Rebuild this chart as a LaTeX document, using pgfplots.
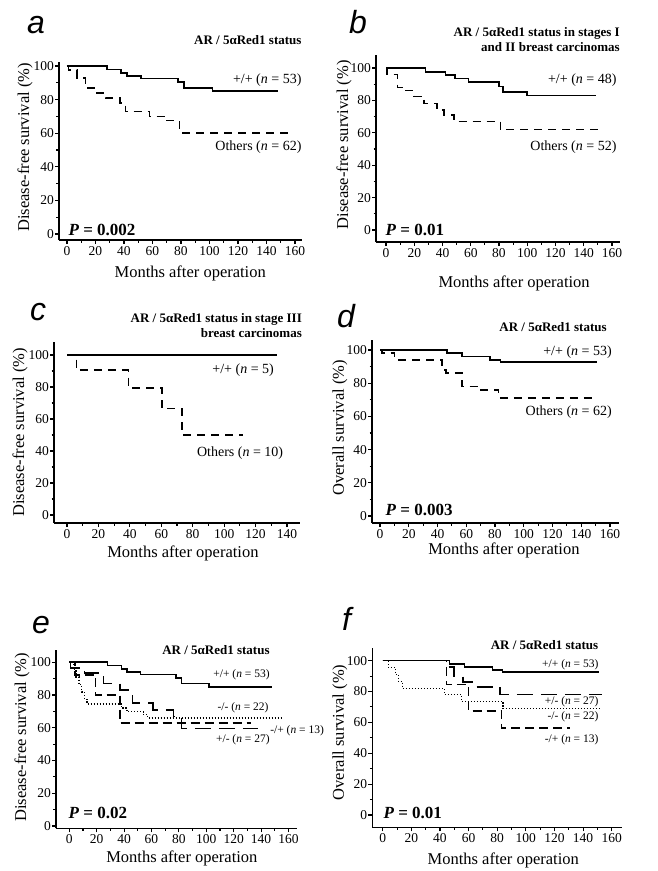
\documentclass[border=0pt]{standalone}
\usepackage{fontspec}
\setmainfont{Liberation Serif}
\newfontfamily\letterfont{Liberation Sans}
\usepackage{pgfplots}
\pgfplotsset{compat=1.18}
\newcommand{\ttl}{\fontsize{13}{14.5}\selectfont\bfseries}
\newcommand{\lbl}{\fontsize{14}{15}\selectfont}
\newcommand{\slbl}{\fontsize{11.5}{12}\selectfont}
\newcommand{\pv}{\fontsize{17}{18}\selectfont\bfseries}
\newcommand{\ltr}{\fontsize{32}{34}\selectfont\letterfont\itshape}
\pgfplotsset{
  km/.style={
    scale only axis, anchor=south west, clip=false,
    axis x line*=bottom, axis y line*=left,
    xtick={0,20,...,160}, ytick={0,20,...,100},
    minor x tick num=1, minor y tick num=1,
    tick align=outside, major tick length=4pt, minor tick length=2.5pt,
    every tick/.style={black, line width=1.1pt},
    axis line style={line width=1.6pt},
    tick label style={font=\fontsize{13.5}{14}\selectfont},
    /pgf/number format/assume math mode=true,
    yticklabel style={inner xsep=1pt},
    xticklabel style={inner ysep=2pt},
    label style={font=\fontsize{16.5}{18}\selectfont},
    xlabel={Months after operation},
  },
  sld/.style={black, solid, line width=1.6pt, const plot, mark=none},
  dsh/.style={black, line width=1.6pt, const plot, mark=none, dash pattern=on 8pt off 6pt},
  lng/.style={black, line width=1.6pt, const plot, mark=none, dash pattern=on 16pt off 8pt},
  med/.style={black, line width=1.6pt, const plot, mark=none, dash pattern=on 9pt off 5pt},
  dot/.style={black, line width=1.4pt, const plot, mark=none, dash pattern=on 1.2pt off 1.8pt},
}
\begin{document}
\begin{tikzpicture}
\useasboundingbox (0,0) rectangle (657pt,-871pt);
% panel letters
\node[anchor=base west, inner sep=0pt] at (27pt,-33pt) {\ltr a};
\node[anchor=base west, inner sep=0pt] at (349pt,-33pt) {\ltr b};
\node[anchor=base west, inner sep=0pt] at (30pt,-320pt) {\ltr c};
\node[anchor=base west, inner sep=0pt] at (337pt,-327pt) {\ltr d};
\node[anchor=base west, inner sep=0pt] at (32pt,-633pt) {\ltr e};
\node[anchor=base west, inner sep=0pt] at (342pt,-630pt) {\ltr f};

% ---------------- a
\begin{axis}[km, at={(59pt,-240pt)}, width=243pt, height=178pt,
  xmin=-5.6, xmax=164.9, ymin=-3.6, ymax=102.4,
  ylabel={Disease-free survival (\%)},
  ylabel style={at={(axis description cs:-0.14,0.52)}, anchor=center},
  xlabel style={at={(axis description cs:0.54,-0.19)}, anchor=center}]
\addplot[sld] coordinates {(0,100)(28,98)(38,96)(42,94)(52,92.5)(78,90.5)(82,87)(102,85)(148,85)};
\addplot[dsh] coordinates {(0,100)(1,97.5)(7,93)(13,87)(21,84)(27,81)(37,78)(41,73)(58,70)(69,67.5)(79,60.3)(155,60.3)};
\node[anchor=east, font=\ttl] at (axis cs:167,115.5) {AR / 5αRed1 status};
\node[anchor=east] at (axis cs:167,91.7) {\lbl +/+ (\textit{n} = 53)};
\node[anchor=east] at (axis cs:167,51.8) {\lbl Others (\textit{n} = 62)};
\node[anchor=west] at (axis cs:-1.4,2.4) {\pv \textit{P} = 0.002};
\end{axis}

% ---------------- b
\begin{axis}[km, at={(376pt,-242pt)}, width=244pt, height=187pt,
  xmin=-7.1, xmax=165.7, ymin=-7.4, ymax=108,
  ylabel={Disease-free survival (\%)},
  ylabel style={at={(axis description cs:-0.131,0.52)}, anchor=center},
  xlabel style={at={(axis description cs:0.566,-0.219)}, anchor=center}]
\addplot[sld] coordinates {(0,100)(28,97.5)(42,95.5)(49,93.5)(58.5,91.5)(80,88.5)(83,85)(100,83)(149,83)};
\addplot[dsh] coordinates {(0,100)(0.7,96)(8,88)(12.5,86)(20,82.5)(27,78)(36,74)(41,71)(48,67)(81,62)(154,62)};
\node[anchor=east, align=right, inner sep=0pt, font=\ttl] at (axis cs:165.7,117.6) {AR / 5αRed1 status in stages I\\and II breast carcinomas};
\node[anchor=east] at (axis cs:165.7,92.6) {\lbl +/+ (\textit{n} = 48)};
\node[anchor=east] at (axis cs:165.7,51.4) {\lbl Others (\textit{n} = 52)};
\node[anchor=west] at (axis cs:-2.8,0) {\pv \textit{P} = 0.01};
\end{axis}

% ---------------- c
\begin{axis}[km, at={(54pt,-523pt)}, width=246pt, height=181.3pt,
  xmin=-8.3, xmax=148.3, ymin=-5, ymax=108.3, xtick={0,20,...,140},
  ylabel={Disease-free survival (\%)},
  ylabel style={at={(axis description cs:-0.138,0.50)}, anchor=center},
  xlabel style={at={(axis description cs:0.524,-0.17)}, anchor=center}]
\addplot[sld] coordinates {(0,100)(133.5,100)};
\addplot[dsh] coordinates {(0,100)(6,90.6)(39,79.5)(60.3,66.5)(73,50)(112,50)};
\node[anchor=east, align=right, inner sep=0pt, font=\ttl] at (axis cs:149.6,118.3) {AR / 5αRed1 status in stage III\\breast carcinomas};
\node[anchor=east] at (axis cs:133.9,90.6) {\lbl +/+ (\textit{n} = 5)};
\node[anchor=east] at (axis cs:139.8,38.5) {\lbl Others (\textit{n} = 10)};
\end{axis}

% ---------------- d
\begin{axis}[km, at={(372pt,-523pt)}, width=247pt, height=183pt,
  xmin=-5.6, xmax=166.3, ymin=-4.2, ymax=106,
  ylabel={Overall survival (\%)},
  ylabel style={at={(axis description cs:-0.13,0.52)}, anchor=center},
  xlabel style={at={(axis description cs:0.534,-0.15)}, anchor=center}]
\addplot[sld] coordinates {(0,100)(46.6,98)(57,96)(76.7,94)(83.7,92.6)(151,92.6)};
\addplot[dsh] coordinates {(0,100)(1.4,98)(10,96)(13,94)(43,88)(46,86)(57,78)(68.6,76)(82.5,71)(151,71)};
\node[anchor=east, font=\ttl] at (axis cs:160.2,114) {AR / 5αRed1 status};
\node[anchor=east] at (axis cs:163.7,98.6) {\lbl +/+ (\textit{n} = 53)};
\node[anchor=east] at (axis cs:163.7,62.8) {\lbl Others (\textit{n} = 62)};
\node[anchor=west] at (axis cs:1.4,3.6) {\pv \textit{P} = 0.003};
\end{axis}

% ---------------- e
\begin{axis}[km, at={(56pt,-828.3pt)}, width=240.7pt, height=178.3pt,
  xmin=-9.7, xmax=166, ymin=-1.4, ymax=107.5,
  ylabel={Disease-free survival (\%)},
  ylabel style={at={(axis description cs:-0.141,0.51)}, anchor=center},
  xlabel style={at={(axis description cs:0.523,-0.167)}, anchor=center}]
\addplot[sld] coordinates {(0,100)(28,98)(38,96)(42,94)(52,92.5)(78,90.5)(82,87)(102,85)(148,85)};
\addplot[dot] coordinates {(0,100)(3,95.5)(5,91)(7,86.4)(9,81.8)(11,77.3)(13,74.5)(38,72)(42,70)(54,68)(57,66)(155,66)};
\addplot[lng] coordinates {(0,100)(1,96.5)(11,93.5)(25,87)(37,83)(46,75)(61,71)(76,67)(82,59.5)(138,59.5)};
\addplot[med] coordinates {(0,100)(4,92.3)(19,80)(37,63)(133,63)};
\node[anchor=east, font=\ttl] at (axis cs:148.8,107.5) {AR / 5αRed1 status};
\node[anchor=east] at (axis cs:148.8,92.2) {\slbl +/+ (\textit{n} = 53)};
\node[anchor=east] at (axis cs:148,72.1) {\slbl -/- (\textit{n} = 22)};
\node[anchor=west, inner xsep=0pt] at (axis cs:146.6,58.5) {\slbl -/+ (\textit{n} = 13)};
\node[anchor=east] at (axis cs:148.8,52.5) {\slbl +/- (\textit{n} = 27)};
\node[anchor=west] at (axis cs:-3.1,7.9) {\pv \textit{P} = 0.02};
\end{axis}

% ---------------- f
\begin{axis}[km, at={(372.3pt,-827.3pt)}, width=249.4pt, height=179pt,
  xmin=-7.3, xmax=167, ymin=-8, ymax=108,
  ylabel={Overall survival (\%)},
  ylabel style={at={(axis description cs:-0.13,0.53)}, anchor=center},
  xlabel style={at={(axis description cs:0.525,-0.183)}, anchor=center}]
\addplot[sld] coordinates {(0,100)(46.6,98)(57,96)(76.7,94)(83.7,92.6)(151,92.6)};
\addplot[dot] coordinates {(0,100)(4,95.5)(9,91)(11,86.4)(14,82)(43,78)(55,73.5)(84,69)(153,69)};
\addplot[lng] coordinates {(0,100)(45,96)(50,90)(56,86)(64,83)(82,78)(153,78)};
\addplot[med] coordinates {(0,100)(44.5,84.6)(60,67.5)(83,56.3)(131,56.3)};
\node[anchor=east, font=\ttl] at (axis cs:153,110.4) {AR / 5αRed1 status};
\node[anchor=east] at (axis cs:153.2,97.4) {\slbl +/+ (\textit{n} = 53)};
\node[anchor=east] at (axis cs:153.2,73.6) {\slbl +/- (\textit{n} = 27)};
\node[anchor=east] at (axis cs:153.2,63.8) {\slbl -/- (\textit{n} = 22)};
\node[anchor=east] at (axis cs:153.2,48.7) {\slbl -/+ (\textit{n} = 13)};
\node[anchor=west] at (axis cs:-1.9,1.3) {\pv \textit{P} = 0.01};
\end{axis}
\end{tikzpicture}
\end{document}
